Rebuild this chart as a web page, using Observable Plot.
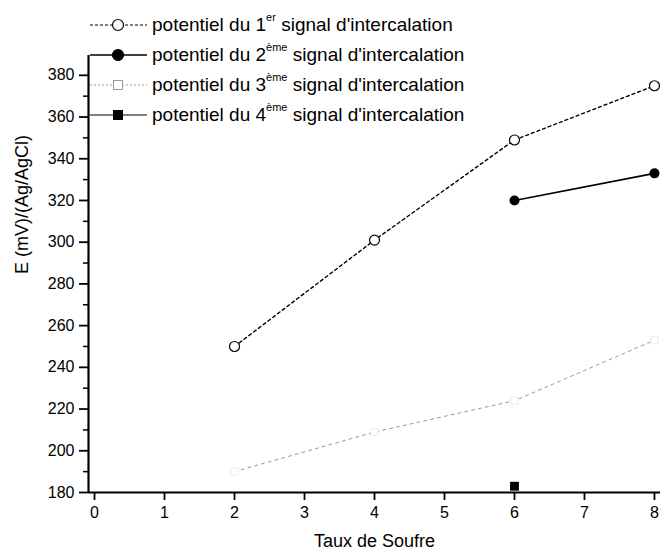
<!DOCTYPE html>
<html><head><meta charset="utf-8">
<script src="https://cdn.jsdelivr.net/npm/d3@7"></script>
<script src="https://cdn.jsdelivr.net/npm/@observablehq/plot@0.6"></script>
<style>
body{margin:0;background:#fff;font-family:"Liberation Sans",Arial,sans-serif;}
#wrap{position:relative;width:660px;height:555px;overflow:hidden;}
#legend{position:absolute;left:89px;top:10px;font-size:19px;color:#000;}
.row{display:flex;align-items:center;height:30px;white-space:nowrap;}
.row svg{margin-right:3px;}
sup{font-size:11px;vertical-align:10px;line-height:0;}
</style></head><body>
<div id="wrap"><div id="chart"></div><div id="legend"></div></div>
<script>
const taux = [2, 4, 6, 8];
const signal1 = [250, 301, 349, 375];
const taux2 = [6, 8];
const signal2 = [320, 333];
const signal3 = [190, 209, 224, 253];
const taux4 = [6];
const signal4 = [183];
const yTicks = d3.range(180, 381, 20);
const yMinor = d3.range(190, 381, 20);
const xTicks = d3.range(0, 9, 1);
const labels = [["1","er"],["2","ème"],["3","ème"],["4","ème"]];

const s1 = taux.map((x,i)=>({x, y: signal1[i]}));
const s2 = taux2.map((x,i)=>({x, y: signal2[i]}));
const s3 = taux.map((x,i)=>({x, y: signal3[i]}));
const s4 = taux4.map((x,i)=>({x, y: signal4[i]}));

const xDom = [-0.086, 8.086], yDom = [180, 389.5];
const chart = Plot.plot({
  width: 660, height: 555,
  marginLeft: 88, marginRight: 0, marginTop: 55, marginBottom: 63,
  style: {fontFamily: '"Liberation Sans", Arial, sans-serif', fontSize: "16px", color: "#000", background: "#fff", overflow: "visible"},
  x: {domain: xDom},
  y: {domain: yDom},
  marks: [
    Plot.axisX({ticks: xTicks, tickSize: 8, tickPadding: 6, tickFormat: d3.format("d"), label: null, fontSize: 16, strokeWidth: 1.8}),
    Plot.axisY({ticks: yTicks, tickSize: 9, tickPadding: 5, tickFormat: d3.format("d"), label: null, fontSize: 16, strokeWidth: 1.8}),
    Plot.axisY({ticks: yMinor, tickSize: 5, tickFormat: () => "", label: null, strokeWidth: 1.5}),
    Plot.ruleX([xDom[0]], {strokeWidth: 2.2}),
    Plot.ruleY([yDom[0]], {strokeWidth: 2.2}),
    Plot.text(["Taux de Soufre"], {frameAnchor: "bottom", dy: 54, fontSize: 18}),
    Plot.text(["E (mV)/(Ag/AgCl)"], {frameAnchor: "left", dx: -66, rotate: -90, fontSize: 18}),
    Plot.line(s3, {x: "x", y: "y", stroke: "#999", strokeWidth: 1, strokeDasharray: "3,4"}),
    Plot.dot(s3, {x: "x", y: "y", symbol: "square", r: 4, stroke: "#e8e8e8", fill: "white", strokeWidth: 0.8}),
    Plot.line(s1, {x: "x", y: "y", stroke: "#000", strokeWidth: 1.4, strokeDasharray: "3,3"}),
    Plot.dot(s1, {x: "x", y: "y", r: 5, stroke: "#000", fill: "white", strokeWidth: 1.2}),
    Plot.line(s2, {x: "x", y: "y", stroke: "#000", strokeWidth: 1.6}),
    Plot.dot(s2, {x: "x", y: "y", r: 5, fill: "#000"}),
    Plot.dot(s4, {x: "x", y: "y", symbol: "square", r: 5, fill: "#000"})
  ]
});
document.getElementById("chart").append(chart);

const styles = [
  {dash:"3,2", color:"#000", sym:"circle", fill:"white", sw:1},
  {dash:null, color:"#000", sym:"circle", fill:"#000", sw:1.6},
  {dash:"2,2", color:"#999", sym:"square", fill:"white", sw:1},
  {dash:null, color:"#000", sym:"square", fill:"#000", sw:1}
];
const leg = document.getElementById("legend");
labels.forEach(([n, sup], i) => {
  const st = styles[i];
  const row = document.createElement("div"); row.className = "row";
  const svg = d3.create("svg").attr("width", 60).attr("height", 20);
  svg.append("line").attr("x1", 1).attr("x2", 58).attr("y1", 10).attr("y2", 10)
    .attr("stroke", st.color).attr("stroke-width", st.sw).attr("stroke-dasharray", st.dash);
  if (st.sym === "circle") svg.append("circle").attr("cx", 29).attr("cy", 10).attr("r", 5.5)
    .attr("fill", st.fill).attr("stroke", st.color).attr("stroke-width", 1.2);
  else svg.append("rect").attr("x", 24.5).attr("y", 5.5).attr("width", 9).attr("height", 9)
    .attr("fill", st.fill).attr("stroke", st.color);
  row.append(svg.node());
  const t = document.createElement("span");
  t.innerHTML = `potentiel du ${n}<sup>${sup}</sup> signal d'intercalation`;
  row.append(t);
  leg.append(row);
});
</script></body></html>
